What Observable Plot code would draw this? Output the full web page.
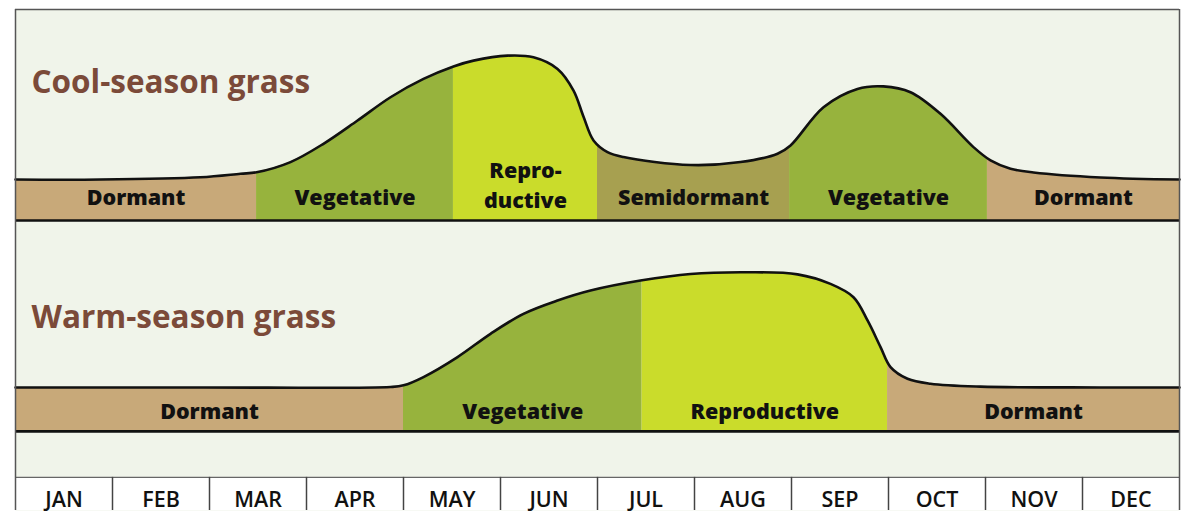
<!DOCTYPE html>
<html>
<head>
<meta charset="utf-8">
<script src="https://cdn.jsdelivr.net/npm/d3@7"></script>
<script src="https://cdn.jsdelivr.net/npm/@observablehq/plot@0.6"></script>
<style>
  body { margin: 0; background: #ffffff; }
  #chart svg { display: block; }
</style>
</head>
<body>
<div id="chart"></div>
<script>
// ---------- DATA ----------
const months = ["JAN", "FEB", "MAR", "APR", "MAY", "JUN", "JUL", "AUG", "SEP", "OCT", "NOV", "DEC"];
const grassNames = ["Cool-season grass", "Warm-season grass"];

// growth curve (x in months from Jan 1, y = relative growth above dormant level)
const coolMonth  = [0, 0.876, 1.907, 2.32, 2.485, 2.835, 3.175, 3.526, 3.866, 4.206, 4.515, 4.722, 5.072, 5.34, 5.588, 5.753, 5.856, 5.959, 6.103, 6.268, 6.959, 7.474, 7.856, 7.99, 8.33, 8.68, 8.948, 9.227, 9.536, 9.876, 10.052, 10.258, 10.495, 11.186, 12];
const coolGrowth = [0, 0, 0.055, 0.14, 0.175, 0.42, 0.86, 1.42, 1.98, 2.42, 2.72, 2.86, 2.98, 2.94, 2.66, 2.14, 1.51, 0.94, 0.66, 0.54, 0.35, 0.42, 0.62, 0.82, 1.74, 2.18, 2.24, 2.1, 1.58, 0.78, 0.46, 0.26, 0.17, 0.05, 0];

const warmMonth  = [0, 1.907, 3.866, 4.0, 4.206, 4.557, 4.897, 5.237, 5.588, 5.928, 6.443, 6.959, 7.546, 8.062, 8.402, 8.639, 8.784, 8.918, 9.021, 9.196, 9.433, 9.948, 11.186, 12];
const warmGrowth = [0, 0, 0.01, 0.05, 0.25, 0.73, 1.29, 1.77, 2.09, 2.33, 2.57, 2.73, 2.77, 2.72, 2.49, 2.17, 1.61, 0.97, 0.49, 0.21, 0.09, 0.02, 0, 0];

// growth stages (start / end in months)
const coolStages     = ["Dormant", "Vegetative", "Repro-\nductive", "Semidormant", "Vegetative", "Dormant"];
const coolStageStart = [0, 2.485, 4.515, 6.0, 7.98, 10.02];
const coolStageEnd   = [2.485, 4.515, 6.0, 7.98, 10.02, 12];

const warmStages     = ["Dormant", "Vegetative", "Reproductive", "Dormant"];
const warmStageStart = [0, 4.0, 6.46, 8.99];
const warmStageEnd   = [4.0, 6.46, 8.99, 12];

// ---------- LAYOUT / STYLE ----------
const BG = "#f0f4ea";
const stageColor = {
  Dormant: "#c8a979",
  Vegetative: "#97b33d",
  Reproductive: "#cadc2b",
  Semidormant: "#a7a050"
};
const TOP = 4.09, BOTTOM = -7.96, MONTH_TOP = -7.163;
const rows = [
  { name: grassNames[0], offset: 0,  depth: 0.986, ceiling: TOP,    labelY: -0.445, titleY: 2.32 },
  { name: grassNames[1], offset: -5, depth: 1.058, ceiling: -0.986, labelY: -0.59,  titleY: 1.67 }
];

// ---------- BUILD TABLES ----------
const curve = [];
[[coolMonth, coolGrowth], [warmMonth, warmGrowth]].forEach(([m, g], r) => {
  m.forEach((x, i) => curve.push({ row: rows[r], grass: rows[r].name, x, y: rows[r].offset + g[i] }));
});

const stages = [];
[[coolStages, coolStageStart, coolStageEnd], [warmStages, warmStageStart, warmStageEnd]].forEach(([s, a, b], r) => {
  s.forEach((label, i) => stages.push({
    row: rows[r], label, multi: label.includes("\n"),
    type: label.replace("-\n", ""), x1: a[i], x2: b[i], mid: (a[i] + b[i]) / 2
  }));
});

const monthData = months.map((m, i) => ({ m, x1: i, x2: i + 1, mid: i + 0.5 }));

const chart = Plot.plot({
  width: 1200,
  height: 520,
  marginTop: 9,
  marginBottom: 10,
  marginLeft: 15,
  marginRight: 21,
  x: { domain: [0, 12], axis: null },
  y: { domain: [BOTTOM, TOP], axis: null },
  style: { fontFamily: "'Open Sans', sans-serif", background: "#ffffff" },
  marks: [
    Plot.frame({ fill: BG, stroke: null }),
    // stage colour bands (full height of each row, masked above the curve)
    Plot.rect(stages, {
      x1: "x1", x2: "x2",
      y1: d => d.row.offset - d.row.depth, y2: d => d.row.ceiling,
      fill: d => stageColor[d.type]
    }),
    // mask above the growth curve
    Plot.areaY(curve, {
      x: "x", y1: "y", y2: d => d.row.ceiling, z: "grass",
      fill: BG, curve: "catmull-rom"
    }),
    // growth curve outline
    Plot.lineY(curve, {
      x: "x", y: "y", z: "grass",
      stroke: "#111", strokeWidth: 2.6, curve: "catmull-rom"
    }),
    // band bottom lines
    Plot.ruleY(rows, { y: d => d.offset - d.depth, x1: 0, x2: 12, stroke: "#111", strokeWidth: 2.6 }),
    // stage labels
    Plot.text(stages.filter(d => !d.multi), {
      x: "mid", y: d => d.row.offset + d.row.labelY, text: "label",
      fontSize: 21.5, fontWeight: 800, fill: "#111", lineAnchor: "middle"
    }),
    Plot.text(stages.filter(d => d.multi), {
      x: "mid", y: d => d.row.offset + d.row.labelY, text: "label",
      fontSize: 21.5, fontWeight: 800, fill: "#111", lineAnchor: "middle",
      lineHeight: 1.4, dy: -15
    }),
    // grass titles
    Plot.text(rows, {
      x: 0, y: d => d.offset + d.titleY, text: "name", dx: 16,
      textAnchor: "start", lineAnchor: "middle",
      fontSize: 31.5, fontWeight: 700, fill: "#7b4a39"
    }),
    // month row
    Plot.rect(monthData, { x1: "x1", x2: "x2", y1: BOTTOM, y2: MONTH_TOP, fill: "#ffffff" }),
    Plot.ruleY([MONTH_TOP], { x1: 0, x2: 12, stroke: "#666", strokeWidth: 1.2 }),
    Plot.ruleX(d3.range(1, 12), { y1: BOTTOM, y2: MONTH_TOP, stroke: "#444", strokeWidth: 1.5 }),
    Plot.text(monthData, {
      x: "mid", y: -7.72, text: "m",
      fontSize: 21.5, fontWeight: 600, fill: "#111", lineAnchor: "middle"
    }),
    // outer frame (top, left, right)
    Plot.ruleX([0, 12], { y1: BOTTOM, y2: TOP, stroke: "#555", strokeWidth: 1.5 }),
    Plot.ruleY([TOP], { x1: 0, x2: 12, stroke: "#555", strokeWidth: 1.5 })
  ]
});

document.getElementById("chart").appendChild(chart);
</script>
</body>
</html>
